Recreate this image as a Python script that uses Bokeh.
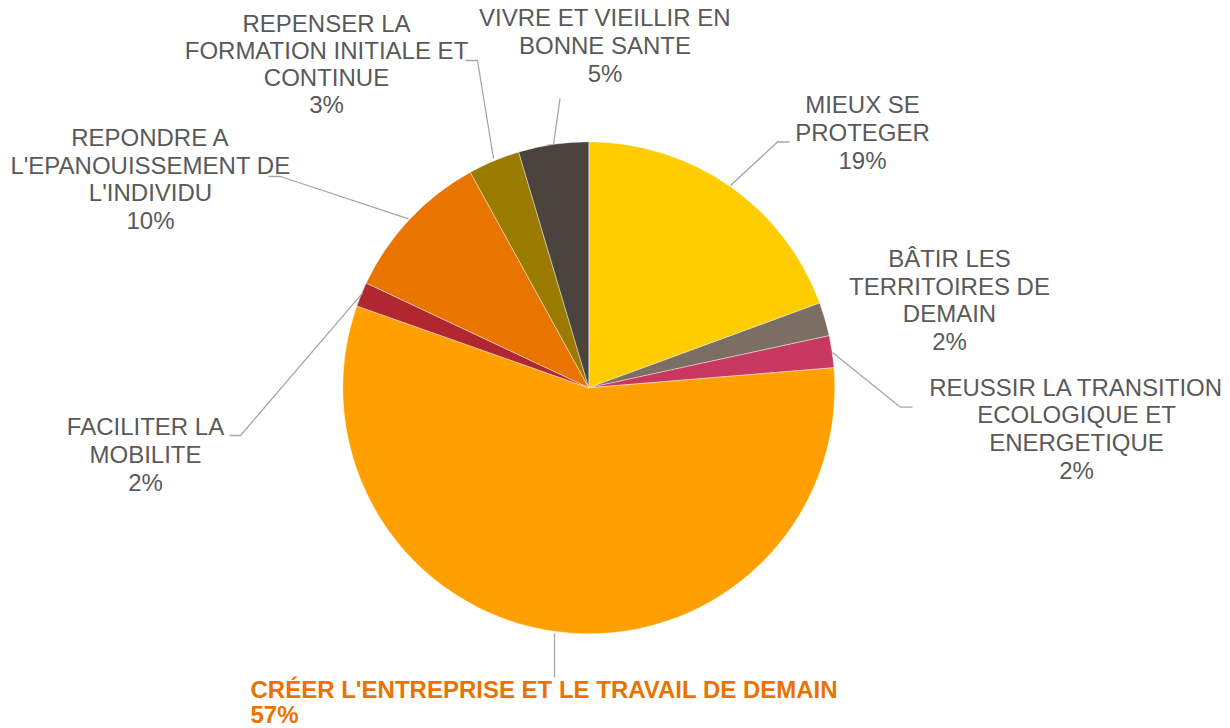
import numpy as np
from bokeh.plotting import figure
from bokeh.models import Range1d
from bokeh.core.properties import value
from bokeh.embed import file_html
from bokeh.resources import INLINE

# ---------------- data ----------------
categories = [
    "MIEUX SE\nPROTEGER",
    "BÂTIR LES\nTERRITOIRES DE\nDEMAIN",
    "REUSSIR LA TRANSITION\nECOLOGIQUE ET\nENERGETIQUE",
    "CRÉER L'ENTREPRISE ET LE TRAVAIL DE DEMAIN",
    "FACILITER LA\nMOBILITE",
    "REPONDRE A\nL'EPANOUISSEMENT DE\nL'INDIVIDU",
    "REPENSER LA\nFORMATION INITIALE ET\nCONTINUE",
    "VIVRE ET VIEILLIR EN\nBONNE SANTE",
]
values = [19.4, 2.2, 2.1, 56.7, 1.6, 10.0, 3.4, 4.6]
colors = ["#FFCC00", "#7B6E62", "#C8385F", "#FFA000",
          "#B0272F", "#E97500", "#9A7B00", "#4A443D"]

# ---------------- layout (reference pixel coords, y down) ----------------
W, H = 1230, 728
CX, CY, R = 588.3, 387.3, 246.0
TEXT_DY = -9.0   # compensates for baseline rendering offset
def Y(ry):
    return H - ry

# label anchors: (x, first baseline y, align, line step, bold)
label_layout = [
    (862, 113.0, "center", 27.8, False),
    (949, 267.0, "center", 27.6, False),
    (1076, 395.5, "center", 27.7, False),
    (250, 697.5, "left", 25.0, True),
    (145, 435.0, "center", 27.8, False),
    (150, 146.0, "center", 27.7, False),
    (326, 31.5, "center", 27.2, False),
    (604.5, 26.0, "center", 27.8, False),
]
leaders = [
    [(730, 185), (777, 141.5), (789, 141.5)],
    None,
    [(832, 352), (900, 406.7), (912, 406.7)],
    [(554, 633), (554, 677)],
    [(362, 292.7), (240, 435), (229, 435)],
    [(408, 218.3), (280, 176), (268, 176)],
    [(493, 158), (477, 60), (465, 60)],
    [(553, 144), (559.5, 98)],
]

p = figure(width=W, height=H,
           x_range=Range1d(0, W), y_range=Range1d(0, H),
           x_axis_type=None, y_axis_type=None,
           output_backend="svg", toolbar_location=None, min_border=0)
p.grid.visible = False
p.outline_line_color = None
p.background_fill_color = "white"
p.border_fill_color = "white"

# wedges, clockwise from 12 o'clock
vals = np.array(values, dtype=float)
frac = vals / vals.sum()
cum = np.concatenate([[0.0], np.cumsum(frac)])
starts = np.pi / 2 - 2 * np.pi * cum[1:]
ends = np.pi / 2 - 2 * np.pi * cum[:-1]
p.wedge(x=CX, y=Y(CY), radius=R, start_angle=starts, end_angle=ends,
        fill_color=colors, line_color="white", line_width=0.6, line_alpha=0.7)

# leader lines
for pts in leaders:
    if pts is None:
        continue
    p.line([q[0] for q in pts], [Y(q[1]) for q in pts],
           line_color="#A6A6A6", line_width=1.3)

# labels
for cat, v, (lx, ly, align, step, bold) in zip(categories, values, label_layout):
    lines = cat.split("\n") + [f"{int(round(v))}%"]
    xs = [lx] * len(lines)
    ys = [Y(ly + TEXT_DY + i * step) for i in range(len(lines))]
    p.text(x=xs, y=ys, text=lines,
           text_font=value("Liberation Sans"), text_font_size="24px",
           text_align=align, text_baseline="alphabetic",
           text_color="#E97300" if bold else "#595959",
           text_font_style="bold" if bold else "normal")

open("out.html", "w").write(file_html(p, INLINE))
